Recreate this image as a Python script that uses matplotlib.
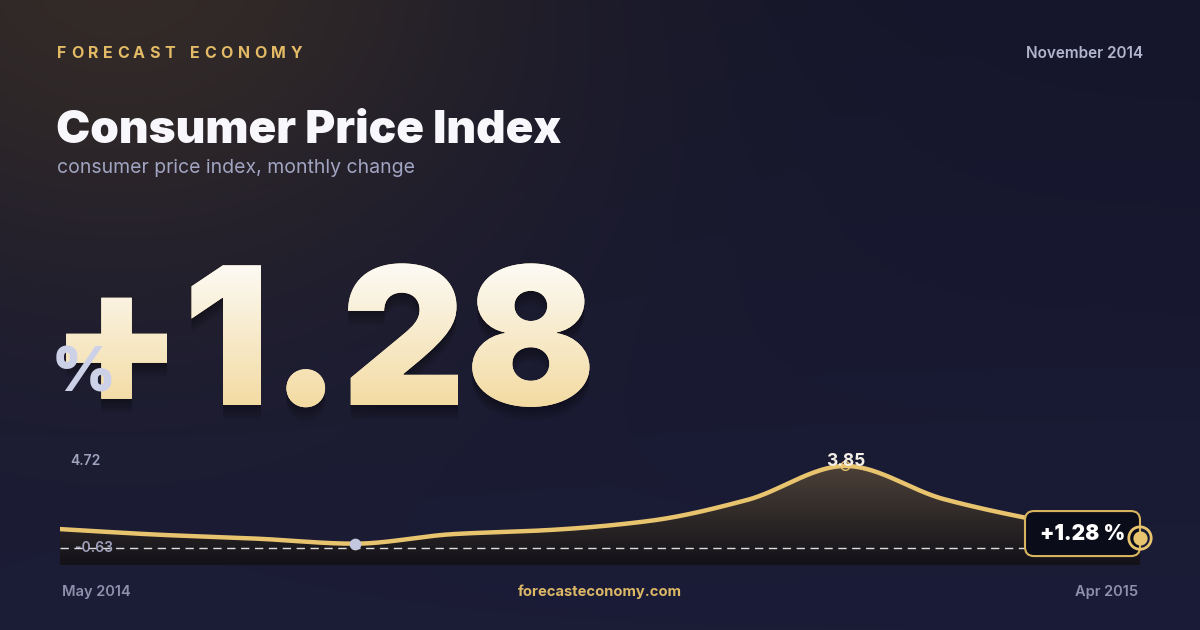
import numpy as np
import matplotlib

matplotlib.use("Agg")
import matplotlib.pyplot as plt
from matplotlib.colors import to_rgb
from matplotlib.font_manager import FontProperties
from matplotlib.patches import FancyBboxPatch, Polygon, PathPatch
from matplotlib.textpath import TextPath
from matplotlib.transforms import (Affine2D, IdentityTransform, ScaledTranslation,
                                   blended_transform_factory)
from matplotlib import patheffects as pe

# ---- content -------------------------------------------------------------
BRAND = "FORECAST ECONOMY"
DATE_LABEL = "November 2014"
TITLE = "Consumer Price Index"
SUBTITLE = "consumer price index, monthly change"
HEADLINE = "+1.28"
UNIT = "%"
SITE = "forecasteconomy.com"

MONTHS = ["May 2014", "Jun 2014", "Jul 2014", "Aug 2014", "Sep 2014", "Oct 2014",
          "Nov 2014", "Dec 2014", "Jan 2015", "Feb 2015", "Mar 2015", "Apr 2015"]
CPI = [1.60, 1.40, 1.26, 1.08, 1.42, 1.57, 1.89, 2.64, 3.85, 2.67, 1.89, 1.28]
SCALE_LABELS = ["4.72", "-0.63"]
BASELINE = 0.92

# ---- style ---------------------------------------------------------------
FONT = ["Inter", "DejaVu Sans"]
GOLD = "#e8c46f"
W, H = 1200, 630


def monotone_curve(x, y, n=500):
    """Fritsch-Carlson monotone cubic, used only to draw a smooth line."""
    x = np.asarray(x, float)
    y = np.asarray(y, float)
    h = np.diff(x)
    d = np.diff(y) / h
    m = np.zeros_like(y)
    m[0], m[-1] = d[0], d[-1]
    for i in range(1, len(y) - 1):
        if d[i - 1] * d[i] > 0:
            m[i] = 3 * (h[i - 1] + h[i]) / ((2 * h[i] + h[i - 1]) / d[i - 1]
                                            + (h[i] + 2 * h[i - 1]) / d[i])
    xs = np.linspace(x[0], x[-1], n)
    k = np.clip(np.searchsorted(x, xs, side="right") - 1, 0, len(h) - 1)
    t = (xs - x[k]) / h[k]
    h00 = 2 * t**3 - 3 * t**2 + 1
    h10 = t**3 - 2 * t**2 + t
    h01 = -2 * t**3 + 3 * t**2
    h11 = t**3 - t**2
    ys = h00 * y[k] + h10 * h[k] * m[k] + h01 * y[k + 1] + h11 * h[k] * m[k + 1]
    return xs, ys


fig = plt.figure(figsize=(12, 6.3), dpi=100)
bg = fig.add_axes([0, 0, 1, 1])
bg.set_xlim(0, W)
bg.set_ylim(H, 0)
bg.axis("off")

# background: navy with warm glow in the top-left corner
yy, xx = np.mgrid[0:H, 0:W]
t = (yy / H)[..., None]
img = np.array(to_rgb("#15162b")) * (1 - t) + np.array(to_rgb("#1b1c37")) * t
w = np.exp(-(np.hypot(xx - 120, (yy + 40) * 1.25) / 420) ** 2)[..., None] * 0.75
img = img * (1 - w) + np.array(to_rgb("#3e3226")) * w
bg.imshow(img, extent=(0, W, H, 0), aspect="auto", zorder=0)

# header
fp_brand = FontProperties(family=FONT, weight="bold", size=11.5)
rend = fig.canvas.get_renderer()
chars = []
for ch in BRAND:
    tx = bg.text(0, 53, ch, fontproperties=fp_brand, color="#e3bb66",
                 va="center", ha="left", zorder=2)
    chars.append(tx)
widths = [(6.0 if c.get_text() == " " else c.get_window_extent(rend).width)
          for c in chars]
gap = (245 - sum(widths)) / (len(chars) - 1)
x = 57
for c, wd in zip(chars, widths):
    c.set_x(x)
    x += wd + gap

bg.text(1143, 54, DATE_LABEL, fontproperties=FontProperties(family=FONT, weight="semibold", size=11),
        color="#b3b5cf", ha="right", va="center", zorder=2)
bg.text(56, 143, TITLE, fontproperties=FontProperties(family=FONT, weight="black", size=33),
        color="#f8f8fc", ha="left", va="baseline", zorder=2)
bg.text(57, 173, SUBTITLE, fontproperties=FontProperties(family=FONT, size=14),
        color="#a1a4c2", ha="left", va="baseline", zorder=2)

# headline number with gradient fill and soft shadow
size_px = 192
fp_big = FontProperties(family=FONT, weight="black")
x0, base = 50, 405
shadow = [pe.SimplePatchShadow(offset=(0, -o), shadow_rgbFace="black", alpha=0.07)
          for o in (2, 4, 6, 8, 10)]
big = bg.text(x0, base, HEADLINE, fontproperties=fp_big, fontsize=size_px * 0.72,
              color="#f6e4b4", ha="left", va="baseline", zorder=3,
              path_effects=shadow + [pe.Normal()])
tp = TextPath((0, 0), HEADLINE, size=size_px, prop=fp_big)
clip = PathPatch(tp, transform=Affine2D().scale(1, -1).translate(x0, base) + bg.transData,
                 facecolor="none", edgecolor="none")
bg.add_patch(clip)
grad = np.linspace(0, 1, 200)[:, None, None]
gimg = (np.array(to_rgb("#fdfcf8")) * (1 - grad) + np.array(to_rgb("#f3daa0")) * grad)
gimg = np.repeat(gimg, 2, axis=1)
gi = bg.imshow(gimg, extent=(0, 700, base + 5, base - 148), aspect="auto", zorder=4)
gi.set_clip_path(clip)
bg.set_xlim(0, W)
bg.set_ylim(H, 0)

bg.text(52, 392, UNIT, fontproperties=FontProperties(family=FONT, weight="black", size=44),
        color="#cdd1e8", ha="left", va="baseline", zorder=5)

# footer
fp_foot = FontProperties(family=FONT, weight="semibold", size=10.5)
bg.text(62, 592, MONTHS[0], fontproperties=fp_foot, color="#8e90ad", ha="left", va="center")
bg.text(1138, 592, MONTHS[-1], fontproperties=fp_foot, color="#8e90ad", ha="right", va="center")
bg.text(600, 592, SITE, fontproperties=FontProperties(family=FONT, weight="bold", size=10.6),
        color="#dcb866", ha="center", va="center")

# ---- sparkline -----------------------------------------------------------
ax = fig.add_axes([60 / W, (H - 565) / H, 1080 / W, 110 / H])
ax.set_facecolor("none")
ax.axis("off")
xi = np.arange(len(CPI))
ax.set_xlim(xi[0], xi[-1])
ylo, yhi = 0.32, 4.24
ax.set_ylim(ylo, yhi)

xs, ys = monotone_curve(xi, CPI)
area = Polygon(np.column_stack([np.r_[xs, xs[-1], xs[0]], np.r_[ys, ylo, ylo]]),
               closed=True, facecolor="none", edgecolor="none", transform=ax.transData)
ax.add_patch(area)
g = np.linspace(0, 1, 120)[:, None, None]
fimg = np.array(to_rgb("#52463b")) * (1 - g) + np.array(to_rgb("#131219")) * g
fimg = np.repeat(fimg, 2, axis=1)
fi = ax.imshow(fimg, extent=(xi[0], xi[-1], ylo, yhi), aspect="auto", zorder=1)
fi.set_clip_path(area)

ax.axhline(BASELINE, color="white", lw=1, dashes=(6, 4), alpha=0.85, zorder=2)
ax.plot(xs, ys, color=GOLD, lw=3.2, solid_capstyle="round", zorder=3)

imin = int(np.argmin(CPI))
imax = int(np.argmax(CPI))
ax.scatter([imin], [CPI[imin]], s=55, color="#c3c7df", zorder=5)
ax.scatter([imax], [CPI[imax]], s=40, facecolor="none", edgecolor=GOLD, lw=1, zorder=5)
ax.annotate(f"{CPI[imax]:.2f}", (imax, CPI[imax]), xytext=(0, 4), textcoords="offset pixels",
            ha="center", va="center", color="#f3efe6", zorder=6,
            fontproperties=FontProperties(family=FONT, weight="bold", size=12.5))

# axis range labels
fp_scale = FontProperties(family=FONT, weight="semibold", size=10)
ax.text(10 / 1080, 1 - 6 / 110, SCALE_LABELS[0], transform=ax.transAxes, color="#a0a2be",
        fontproperties=fp_scale, ha="left", va="center", zorder=6)
ax.text(15 / 1080, BASELINE, SCALE_LABELS[1],
        transform=blended_transform_factory(ax.transAxes, ax.transData),
        color="#a0a2be", fontproperties=fp_scale, ha="left", va="center", zorder=6)

# last value callout
anchor = IdentityTransform() + ScaledTranslation(xi[-1], CPI[-1], ax.transData)
box = FancyBboxPatch((-115, -18), 115, 45, boxstyle="round,pad=0,rounding_size=9",
                     facecolor="#0b0c1a", edgecolor="#d9b45f", lw=1.5,
                     transform=anchor, clip_on=False, zorder=7)
ax.add_patch(box)
ax.text(-57, 4.5, f"+{CPI[-1]:.2f} %", transform=anchor, color="white", ha="center",
        va="center", fontproperties=FontProperties(family=FONT, weight="black", size=15),
        zorder=8, clip_on=False)
ax.scatter([xi[-1]], [CPI[-1]], s=260, facecolor="none", edgecolor=GOLD, lw=2,
           zorder=9, clip_on=False)
ax.scatter([xi[-1]], [CPI[-1]], s=85, color=GOLD, zorder=9, clip_on=False)

fig.savefig("out.png", dpi=100)
